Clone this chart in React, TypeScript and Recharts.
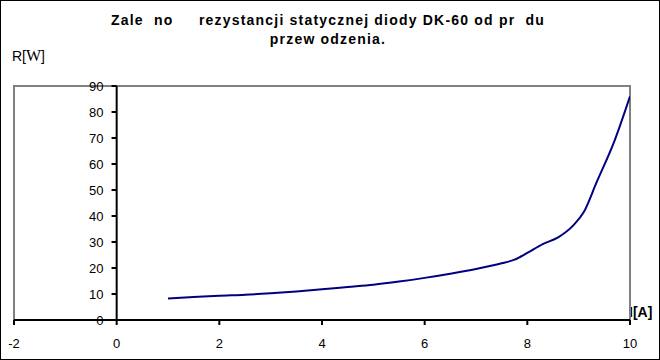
import { LineChart, Line, XAxis, YAxis, ReferenceLine, ReferenceArea } from 'recharts';

const currents = [1, 1.5, 2, 2.5, 3, 3.5, 4, 4.5, 5, 5.5, 6, 6.5, 7, 7.5, 7.75, 8, 8.3, 8.6, 8.9, 9.1, 9.35, 9.7, 10];
const resistances = [8.3, 8.8, 9.3, 9.7, 10.3, 11, 11.8, 12.7, 13.6, 14.8, 16.2, 17.8, 19.6, 21.8, 23.2, 25.8, 29.2, 31.8, 36.5, 41.5, 53, 69, 86];
const xTicks = [-2, 0, 2, 4, 6, 8, 10];
const yTicks = [0, 10, 20, 30, 40, 50, 60, 70, 80, 90];

const data = currents.map((i, idx) => ({ i, r: resistances[idx] }));

const W = 660;
const H = 360;
const PLOT_LEFT = 14;
const PLOT_RIGHT = 630;
const PLOT_TOP = 86;
const X_MIN = -2;
const X_MAX = 10;
const FONT = '"Liberation Sans", Arial, sans-serif';

export default function App() {
  return (
    <div
      style={{
        position: 'absolute',
        left: 0,
        top: 0,
        width: W,
        height: H,
        border: '1px solid #000',
        boxSizing: 'border-box',
        background: '#fff',
        fontFamily: FONT,
      }}
    >
      <div style={{ position: 'absolute', left: 0, width: W - 6, top: 10, textAlign: 'center', fontWeight: 'bold', fontSize: 14, whiteSpace: 'pre', lineHeight: '19px', letterSpacing: 1.2 }}>
        {'Zale  no     rezystancji statycznej diody DK-60 od pr  du\nprzew odzenia.'}
      </div>
      <div style={{ position: 'absolute', left: 11, top: 46, fontSize: 14 }}>
        R[<span style={{ fontFamily: '"Liberation Serif", serif', fontSize: 16 }}>W</span>]
      </div>
      <div style={{ position: 'absolute', left: 628, top: 303, fontSize: 14, fontWeight: 'bold' }}>I[A]</div>
      <div style={{ position: 'absolute', left: -1, top: -1 }}>
        <LineChart width={W} height={H} data={data} margin={{ top: PLOT_TOP, right: W - PLOT_RIGHT, left: PLOT_LEFT, bottom: 0 }}>
          <ReferenceArea x1={X_MIN} x2={X_MAX} y1={0} y2={90} fill="none" stroke="#808080" strokeWidth={2} ifOverflow="visible" />
          <XAxis
            dataKey="i"
            type="number"
            domain={[X_MIN, X_MAX]}
            ticks={xTicks}
            height={40}
            axisLine={{ stroke: '#000', strokeWidth: 2 }}
            tickLine={{ stroke: '#000', strokeWidth: 2 }}
            tickSize={5}
            tickMargin={14}
            tick={{ fill: '#000', fontSize: 13, fontFamily: FONT }}
            allowDataOverflow
          />
          <YAxis type="number" domain={[0, 90]} ticks={yTicks} hide allowDataOverflow />
          <ReferenceLine x={0} stroke="#000" strokeWidth={2} />
          {yTicks.map((v) => (
            <ReferenceLine
              key={v}
              segment={[{ x: -0.1, y: v }, { x: 0, y: v }]}
              stroke="#000"
              strokeWidth={2}
              ifOverflow="visible"
              label={{ value: v, position: 'left', offset: 8, fill: '#000', fontSize: 13, fontFamily: FONT }}
            />
          ))}
          <Line dataKey="r" type="monotone" stroke="#000080" strokeWidth={2} dot={false} isAnimationActive={false} />
        </LineChart>
      </div>
    </div>
  );
}
